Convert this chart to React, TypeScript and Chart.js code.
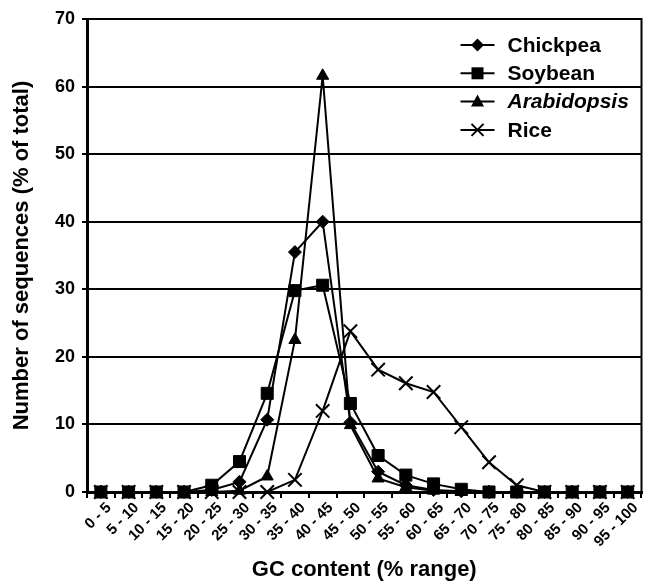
import React, { useEffect, useRef } from 'react';
import { Chart, registerables } from 'chart.js';

Chart.register(...registerables);

const categories = [
  '0 - 5', '5 - 10', '10 - 15', '15 - 20', '20 - 25', '25 - 30', '30 - 35', '35 - 40', '40 - 45', '45 - 50',
  '50 - 55', '55 - 60', '60 - 65', '65 - 70', '70 - 75', '75 - 80', '80 - 85', '85 - 90', '90 - 95', '95 - 100',
];
const chickpea = [0, 0, 0, 0, 0.3, 1.5, 10.7, 35.5, 40, 10.3, 3, 1, 0.3, 0.1, 0, 0, 0, 0, 0, 0];
const soybean = [0, 0, 0, 0, 1, 4.5, 14.6, 29.8, 30.6, 13.1, 5.4, 2.5, 1.2, 0.4, 0, 0, 0, 0, 0, 0];
const arabidopsis = [0, 0, 0, 0, 0, 0.2, 2.3, 22.5, 61.6, 9.9, 2, 0.7, 0.2, 0, 0, 0, 0, 0, 0, 0];
const rice = [0, 0, 0, 0, 0, 0, 0, 1.8, 12, 23.8, 18.1, 16.1, 14.8, 9.6, 4.4, 1, 0, 0, 0, 0];
const seriesNames = ['Chickpea', 'Soybean', 'Arabidopsis', 'Rice'];
const yMin = 0;
const yMax = 70;
const yStep = 10;

const FONT = "'Liberation Sans', Arial, Helvetica, sans-serif";

export default function App() {
  const ref = useRef<HTMLCanvasElement>(null);

  useEffect(() => {
    if (!ref.current) return;

    const framePlugin = {
      id: 'frame',
      afterDraw(chart: any) {
        const { ctx, chartArea } = chart;
        ctx.save();
        ctx.strokeStyle = '#000';
        ctx.lineWidth = 2;
        ctx.beginPath();
        ctx.moveTo(chartArea.right, chartArea.top - 1);
        ctx.lineTo(chartArea.right, chartArea.bottom);
        ctx.stroke();
        ctx.restore();
      },
    };

    const drawMarker = (ctx: CanvasRenderingContext2D, kind: string, x: number, y: number) => {
      ctx.beginPath();
      if (kind === 'diamond') {
        ctx.moveTo(x, y - 6.5);
        ctx.lineTo(x + 6.5, y);
        ctx.lineTo(x, y + 6.5);
        ctx.lineTo(x - 6.5, y);
        ctx.closePath();
        ctx.fill();
      } else if (kind === 'square') {
        ctx.rect(x - 6, y - 6, 12, 12);
        ctx.fill();
      } else if (kind === 'triangle') {
        ctx.moveTo(x, y - 7);
        ctx.lineTo(x + 6.5, y + 5);
        ctx.lineTo(x - 6.5, y + 5);
        ctx.closePath();
        ctx.fill();
      } else {
        ctx.moveTo(x - 6, y - 6);
        ctx.lineTo(x + 6, y + 6);
        ctx.moveTo(x + 6, y - 6);
        ctx.lineTo(x - 6, y + 6);
        ctx.stroke();
      }
    };

    const legendPlugin = {
      id: 'boxLegend',
      afterDraw(chart: any) {
        const { ctx, chartArea } = chart;
        const kinds = ['diamond', 'square', 'triangle', 'cross'];
        const x0 = chartArea.right - 181;
        const x1 = chartArea.right - 147;
        const xm = (x0 + x1) / 2;
        const xt = chartArea.right - 134;
        ctx.save();
        ctx.fillStyle = '#000';
        ctx.strokeStyle = '#000';
        seriesNames.forEach((name, i) => {
          const y = chartArea.top + 26 + i * 28.3;
          ctx.lineWidth = 2;
          ctx.beginPath();
          ctx.moveTo(x0, y);
          ctx.lineTo(x1, y);
          ctx.stroke();
          drawMarker(ctx, kinds[i], xm, y);
          ctx.font = `${name === 'Arabidopsis' ? 'italic ' : ''}bold 21px ${FONT}`;
          ctx.textBaseline = 'middle';
          ctx.textAlign = 'left';
          ctx.fillText(name, xt, y + 1);
        });
        ctx.restore();
      },
    };

    const common = {
      borderColor: '#000',
      backgroundColor: '#000',
      pointBackgroundColor: '#000',
      pointBorderColor: '#000',
      borderWidth: 2,
      tension: 0,
      clip: false as any,
      fill: false,
    };

    const chart = new Chart(ref.current, {
      type: 'line',
      data: {
        labels: categories,
        datasets: [
          { ...common, label: seriesNames[0], data: chickpea, pointStyle: 'rectRot', pointRadius: 6.5, pointBorderWidth: 1, order: 1 },
          { ...common, label: seriesNames[1], data: soybean, pointStyle: 'rect', pointRadius: 8.5, pointBorderWidth: 1, order: 0 },
          { ...common, label: seriesNames[2], data: arabidopsis, pointStyle: 'triangle', pointRadius: 7, pointBorderWidth: 1, order: 2 },
          { ...common, label: seriesNames[3], data: rice, pointStyle: 'crossRot', pointRadius: 9.5, pointBorderWidth: 2, order: 3 },
        ],
      },
      options: {
        responsive: false,
        animation: false,
        devicePixelRatio: 1,
        layout: { padding: { top: 19, right: 11, left: 0, bottom: 0 } },
        plugins: {
          legend: { display: false },
          tooltip: { enabled: false },
        },
        scales: {
          x: {
            type: 'category',
            offset: true,
            grid: { offset: true, drawOnChartArea: false, drawTicks: true, tickLength: 6, color: '#000', lineWidth: 2 },
            border: { color: '#000', width: 3 },
            ticks: {
              autoSkip: false,
              maxRotation: 45,
              minRotation: 45,
              color: '#000',
              padding: 1,
              labelOffset: 8,
              font: { family: FONT, size: 15, weight: 'bold' },
            },
            title: {
              display: true,
              text: 'GC content (% range)',
              color: '#000',
              font: { family: FONT, size: 22, weight: 'bold' },
              padding: { top: 0, bottom: -2 },
            },
            afterFit(scale: any) {
              scale.height = 89;
            },
          },
          y: {
            min: yMin,
            max: yMax,
            ticks: {
              stepSize: yStep,
              color: '#000',
              padding: 7,
              font: { family: FONT, size: 18, weight: 'bold' },
            },
            grid: { color: '#000', lineWidth: 2, tickLength: 5 },
            border: { color: '#000', width: 3 },
            title: {
              display: true,
              text: 'Number of sequences (% of total)',
              color: '#000',
              font: { family: FONT, size: 22, weight: 'bold' },
              padding: { top: 9, bottom: 0 },
            },
            afterFit(scale: any) {
              scale.width = 87;
            },
          },
        },
      } as any,
      plugins: [framePlugin, legendPlugin],
    });

    return () => chart.destroy();
  }, []);

  return (
    <div style={{ position: 'absolute', left: 0, top: 0, width: 653, height: 581, background: '#fff' }}>
      <canvas ref={ref} width={653} height={581} style={{ display: 'block', width: 653, height: 581 }} />
    </div>
  );
}
